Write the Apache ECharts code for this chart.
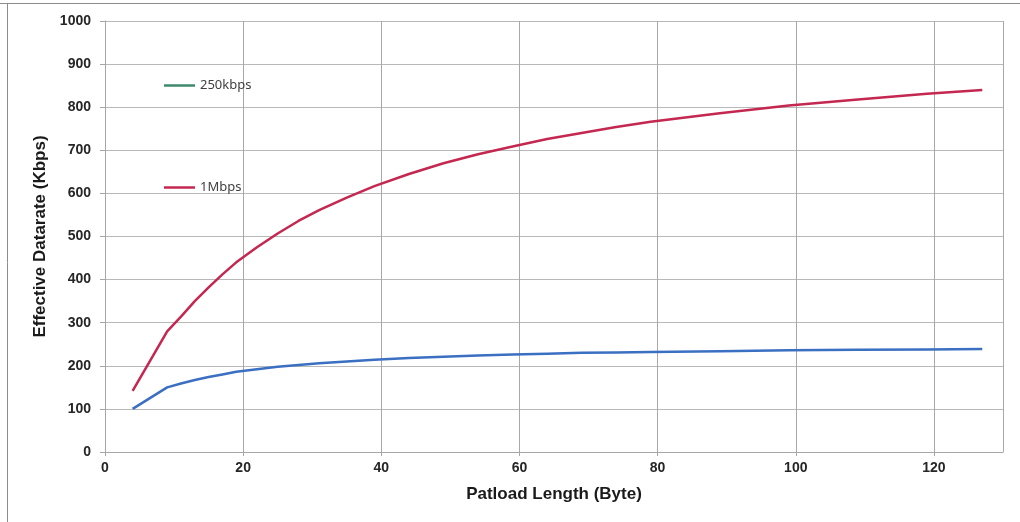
<!DOCTYPE html>
<html>
<head>
<meta charset="utf-8">
<script src="https://cdn.jsdelivr.net/npm/echarts@6/dist/echarts.min.js"></script>
<style>
  html, body { margin: 0; padding: 0; background: #ffffff; }
  #main { width: 1020px; height: 522px; }
</style>
</head>
<body>
<div id="main"></div>
<script>
// payload length (byte)
const payload = [4, 9, 11, 13, 15, 17, 19, 22, 25, 28, 31, 35, 39, 44, 49, 54, 59, 64, 69, 74, 79, 89, 99, 109, 119, 127]
// effective datarate (kbps)
const rate250k = [100, 150, 159, 167, 174, 180, 186, 192, 198, 202, 206, 210, 214, 218, 221, 224, 226, 228, 230, 231, 232, 234, 236, 237, 238, 239]
const rate1M = [142, 280, 314, 350, 382, 412, 440, 475, 507, 536, 561, 590, 617, 645, 670, 691, 709, 726, 740, 754, 766, 786, 804, 818, 831, 840]

const seriesNames = ['250kbps', '1Mbps']
const legendColors = ['#3f8a6c', '#c4274f']

const zip = function(xs, ys) {
  const out = []
  for (let i = 0; i < xs.length; ++i) {
    out.push([xs[i], ys[i]])
  }
  return out
}

const boldLabel = {
  fontFamily: 'Liberation Sans, Arial, sans-serif',
  fontWeight: 'bold',
  fontSize: 14,
  color: '#262626'
}

const nameStyle = {
  fontFamily: 'Liberation Sans, Arial, sans-serif',
  fontWeight: 'bold',
  fontSize: 17,
  color: '#1a1a1a'
}

const legendText = {
  fontFamily: 'Noto Sans, sans-serif',
  fontSize: 13,
  color: '#404040'
}

const legendAt = function(i, top) {
  return {
    data: [{ name: seriesNames[i], icon: 'rect', itemStyle: { color: legendColors[i] } }],
    left: 159, top: top,
    itemWidth: 31, itemHeight: 2.5, itemGap: 3,
    textStyle: legendText
  }
}

const chart = echarts.init(document.getElementById('main'), null, { renderer: 'canvas' })

const option = {
  backgroundColor: '#ffffff',
  animation: false,
  grid: { left: 105, right: 17, top: 21, bottom: 70, containLabel: false },
  legend: [legendAt(0, 74), legendAt(1, 176)],
  xAxis: {
    type: 'value',
    min: 0,
    max: 130,
    interval: 20,
    name: 'Patload Length (Byte)',
    nameLocation: 'middle',
    nameGap: 34,
    nameTextStyle: nameStyle,
    axisLine: { show: true, lineStyle: { color: '#a6a6a6', width: 1 } },
    axisTick: { show: true, length: 4, lineStyle: { color: '#a6a6a6' } },
    axisLabel: Object.assign({ margin: 9, showMaxLabel: false }, boldLabel),
    splitLine: { show: true, lineStyle: { color: '#a8a8a8', width: 1 } }
  },
  yAxis: {
    type: 'value',
    min: 0,
    max: 1000,
    interval: 100,
    name: 'Effective Datarate (Kbps)',
    nameLocation: 'middle',
    nameGap: 52,
    nameTextStyle: nameStyle,
    axisLine: { show: true, lineStyle: { color: '#a6a6a6', width: 1 } },
    axisTick: { show: true, length: 5, lineStyle: { color: '#a6a6a6' } },
    axisLabel: Object.assign({ margin: 14, formatter: function(v) { return String(v) } }, boldLabel),
    splitLine: { show: true, lineStyle: { color: '#b8b8b8', width: 1 } }
  },
  series: [{
    name: seriesNames[0],
    type: 'line',
    symbol: 'none',
    color: '#3b6fc2',
    lineStyle: { width: 2.5, color: '#3b6fc2' },
    data: zip(payload, rate250k)
  }, {
    name: seriesNames[1],
    type: 'line',
    symbol: 'none',
    color: '#c4274f',
    lineStyle: { width: 2.5, color: '#c4274f' },
    data: zip(payload, rate1M)
  }],
  graphic: [
    // outer chart frame (top and left edges visible in the picture)
    { type: 'line', shape: { x1: 0, y1: 3.5, x2: 1020, y2: 3.5 }, style: { stroke: '#8c8c8c', lineWidth: 1 } },
    { type: 'line', shape: { x1: 7.5, y1: 3, x2: 7.5, y2: 522 }, style: { stroke: '#8c8c8c', lineWidth: 1 } }
  ]
}

chart.setOption(option)
</script>
</body>
</html>
